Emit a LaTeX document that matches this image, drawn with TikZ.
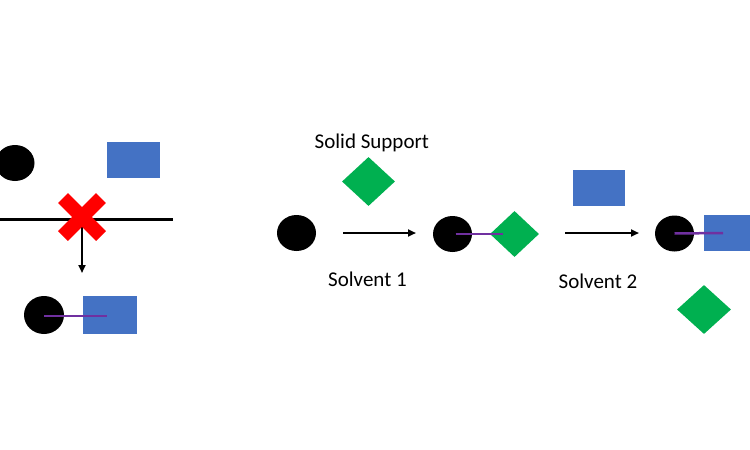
\documentclass[tikz,border=0pt]{standalone}
\usepackage{fontspec}
\setmainfont{Carlito}
\usetikzlibrary{shapes.geometric,arrows.meta,calc}
\definecolor{myblue}{HTML}{4472C4}
\definecolor{mygreen}{HTML}{00B050}
\definecolor{mypurple}{HTML}{7030A0}
\tikzset{
  ball/.style={ellipse,fill=black,inner sep=0pt,minimum width=39pt,minimum height=36pt},
  bluebox/.style={rectangle,fill=myblue,inner sep=0pt,minimum width=53pt,minimum height=36pt},
  greenbox/.style={diamond,fill=mygreen,inner sep=0pt,minimum width=52pt,minimum height=49pt},
  bond/.style={draw=mypurple,line width=2.5pt},
  reacts/.style={draw=black,line width=2pt,-{Triangle[length=8pt,width=7pt]}},
  txt/.style={anchor=base west,inner sep=0pt,font=\fontsize{21}{25}\selectfont},
}
\begin{document}
\begin{tikzpicture}[x=1pt,y=-1pt]
\useasboundingbox (0,0) rectangle (750,450);
% left panel
\node[ball] (lc1) at (15,163) {};
\node[bluebox] (lb1) at (133.5,159.5) {};
\coordinate (hl) at (0,219);
\coordinate (hr) at (173,219);
\draw[line width=3pt] (hl) -- (hr);
\coordinate (xc) at (82,217);
\coordinate (xend) at (82,273);
\draw[reacts] (82,219) -- (xend);
\draw[red,line width=14pt] ($(xc)+(-19,-19)$) -- ($(xc)+(19,19)$);
\draw[red,line width=14pt] ($(xc)+(19,-19)$) -- ($(xc)+(-19,19)$);
\node[ball,minimum width=40pt,minimum height=38pt] (lc2) at (44,315) {};
\node[bluebox,minimum height=38pt,minimum width=54pt] (lb2) at (110,315) {};
\coordinate (lbe) at (107,316);
\draw[bond] (lc2.center) ++(0,1) -- (lbe);
% middle
\node[txt] (ss) at (314.5,148) {Solid Support};
\node[greenbox,minimum width=53pt] (gd1) at (368.5,181.5) {};
\node[ball] (mc1) at (296.5,233) {};
\coordinate (a1s) at (343,233);
\coordinate (a1e) at (416,233);
\draw[reacts] (a1s) -- (a1e);
\node[txt] (s1) at (328,286) {Solvent 1};
\node[greenbox,minimum width=49pt,minimum height=46pt] (gd2) at (514.5,234) {};
\node[ball] (mc2) at (452.5,234) {};
\coordinate (b2e) at (503,234);
\draw[bond] (mc2.center) ++(3,0) -- (b2e);
% right
\node[bluebox,minimum width=52pt] (rb1) at (599,188) {};
\coordinate (a2s) at (565,233);
\coordinate (a2e) at (639,233);
\draw[reacts] (a2s) -- (a2e);
\node[txt] (s2) at (558.5,288) {Solvent 2};
\node[bluebox,minimum width=50pt] (rb2) at (729,233) {};
\node[ball] (rc) at (674.5,233.5) {};
\coordinate (b3e) at (723,233);
\draw[bond] (rc.center) -- (b3e);
\node[greenbox,minimum width=54pt] (gd3) at (704,309.5) {};
\end{tikzpicture}
\end{document}
